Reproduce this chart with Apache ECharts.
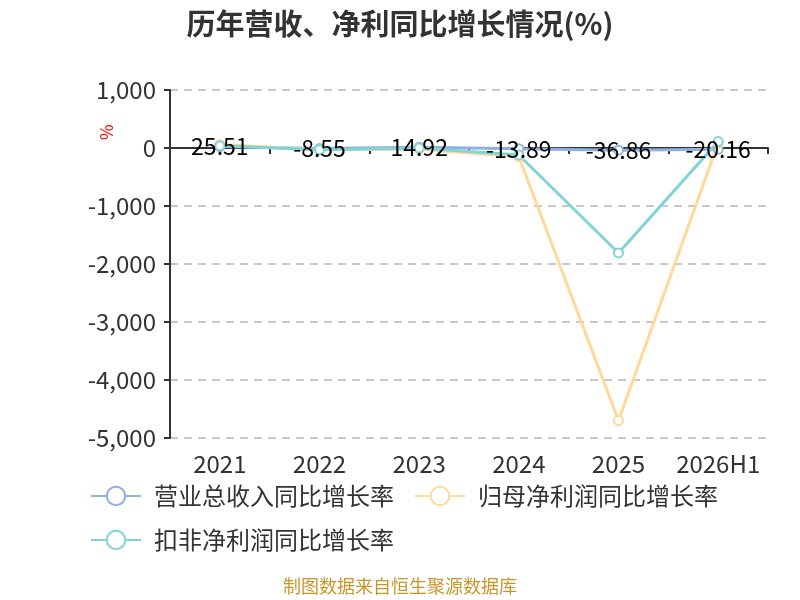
<!DOCTYPE html>
<html>
<head>
<meta charset="utf-8">
<script src="https://cdn.jsdelivr.net/npm/echarts@6/dist/echarts.min.js"></script>
<style>
  html, body { margin: 0; padding: 0; background: #fff; }
  #chart { width: 800px; height: 600px; }
</style>
</head>
<body>
<div id="chart"></div>
<script>
// 数据
const years = ["2021", "2022", "2023", "2024", "2025", "2026H1"];
const revenueGrowth = [25.51, -8.55, 14.92, -13.89, -36.86, -20.16];
const netProfitGrowth = [60, -30, -20, -150, -4700, 80];
const deductedProfitGrowth = [40, -30, 0, -120, -1810, 110];
const yTicks = { min: -5000, max: 1000, interval: 1000 };

const chart = echarts.init(document.getElementById("chart"));
const font = "'Noto Sans CJK SC', 'Noto Sans', sans-serif";

function lineSeries(name, data, color, withLabel) {
    return {
        name: name,
        type: "line",
        data: data,
        color: color,
        symbol: "emptyCircle",
        symbolSize: 9,
        lineStyle: { width: 3, color: color },
        itemStyle: { color: color, borderWidth: 2 },
        label: withLabel ? {
            show: true,
            position: "inside",
            color: "#000",
            fontSize: 23,
            fontFamily: font,
        } : { show: false },
    };
}

const option = {
    textStyle: { fontFamily: font },
    title: {
        text: "历年营收、净利同比增长情况(%)",
        left: "center",
        top: 4,
        textStyle: { fontSize: 29, fontWeight: "bold", color: "#333", fontFamily: font },
    },
    grid: { left: 170, right: 32, top: 90, bottom: 162 },
    legend: {
        left: 85,
        top: 479,
        width: 680,
        itemWidth: 50,
        itemHeight: 23,
        itemGap: 20,
        textStyle: { fontSize: 24, color: "#333", fontFamily: font, padding: [0, 0, 0, 8] },
        data: ["营业总收入同比增长率", "归母净利润同比增长率", "扣非净利润同比增长率"],
    },
    xAxis: [
        {
            type: "category",
            data: years,
            axisLine: { onZero: true, lineStyle: { color: "#333", width: 2 } },
            axisTick: { show: true, lineStyle: { color: "#333", width: 2 }, length: 6 },
            axisLabel: { show: false },
        },
        {
            type: "category",
            data: years,
            position: "bottom",
            axisLine: { show: false, onZero: false },
            axisTick: { show: false },
            axisLabel: { fontSize: 24, color: "#333", margin: 14, fontFamily: font, interval: 0 },
        },
    ],
    yAxis: {
        type: "value",
        min: yTicks.min,
        max: yTicks.max,
        interval: yTicks.interval,
        axisLine: { show: true, lineStyle: { color: "#333", width: 2 } },
        axisTick: { show: true, lineStyle: { color: "#333", width: 2 }, length: 6 },
        axisLabel: {
            fontSize: 24,
            color: "#333",
            margin: 14,
            fontFamily: font,
            formatter: (v) => v.toLocaleString("en-US"),
        },
        splitLine: { lineStyle: { type: [8, 6], color: "#c8c8c8", width: 2 } },
    },
    series: [
        lineSeries("营业总收入同比增长率", revenueGrowth, "#8fb0e0", true),
        lineSeries("归母净利润同比增长率", netProfitGrowth, "#ffd99a", false),
        lineSeries("扣非净利润同比增长率", deductedProfitGrowth, "#80d4d8", false),
    ],
    graphic: [
        {
            type: "text",
            x: 98,
            y: 140,
            rotation: Math.PI / 2,
            style: { text: "%", fill: "red", fontSize: 17, fontFamily: font },
        },
        {
            type: "text",
            left: "center",
            top: 577,
            style: { text: "制图数据来自恒生聚源数据库", fill: "#c9962a", fontSize: 18, fontFamily: font },
        },
    ],
};
chart.setOption(option);
</script>
</body>
</html>
